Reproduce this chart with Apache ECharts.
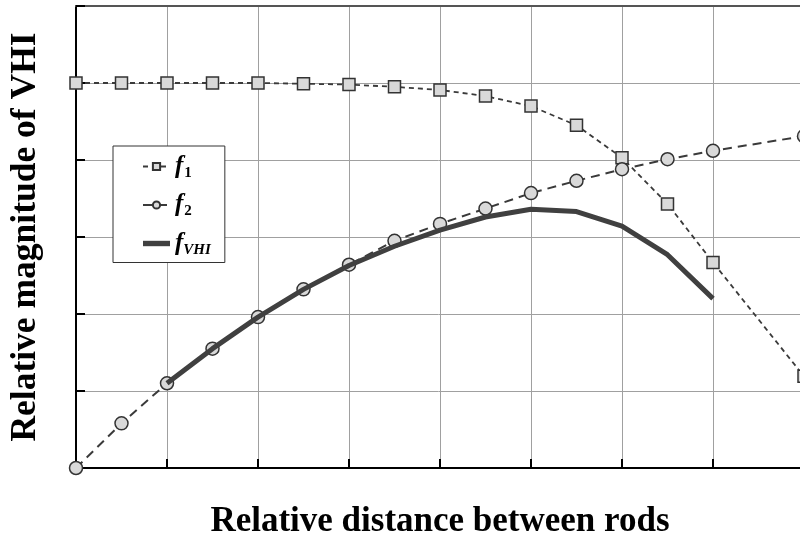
<!DOCTYPE html>
<html>
<head>
<meta charset="utf-8">
<script src="https://cdn.jsdelivr.net/npm/echarts@6/dist/echarts.min.js"></script>
<style>html,body{margin:0;padding:0;background:#fff}#c{width:800px;height:537px}</style>
</head>
<body>
<div id="c"></div>
<script>
const xValues = [0, 0.5, 1, 1.5, 2, 2.5, 3, 3.5, 4, 4.5, 5, 5.5, 6, 6.5, 7, 8];
const f1Values = [5.0, 5.0, 5.0, 5.0, 5.0, 4.99, 4.98, 4.95, 4.91, 4.83, 4.70, 4.45, 4.03, 3.43, 2.67, 1.19];
const f2Values = [0, 0.58, 1.10, 1.55, 1.96, 2.32, 2.64, 2.95, 3.17, 3.37, 3.57, 3.73, 3.88, 4.01, 4.12, 4.31];
const vhiX = [1, 1.5, 2, 2.5, 3, 3.5, 4, 4.5, 5, 5.5, 6, 6.5, 7];
const vhiValues = [1.10, 1.55, 1.96, 2.32, 2.63, 2.88, 3.09, 3.26, 3.36, 3.33, 3.14, 2.77, 2.20];
const seriesNames = ['f1', 'f2', 'fVHI'];
const xTitle = 'Relative distance between rods';
const yTitle = 'Relative magnitude of VHI';

const pair = (xs, ys) => xs.map((x, i) => [x, ys[i]]);
const serif = 'Liberation Serif';

const chart = echarts.init(document.getElementById('c'), null, {renderer: 'canvas'});
chart.setOption({
  animation: false,
  backgroundColor: '#fff',
  grid: {left: 76, top: 6, right: -4, bottom: 69, outerBoundsMode: 'none', containLabel: false},
  legend: {
    orient: 'vertical',
    left: 113, top: 146,
    padding: [8, 14, 5, 29],
    backgroundColor: '#fff',
    borderColor: '#333',
    borderWidth: 1,
    itemWidth: 27,
    itemHeight: 9,
    itemGap: 12,
    data: [
      {name: seriesNames[0]},
      {name: seriesNames[1]},
      {name: seriesNames[2], icon: 'path://M0,0H30V6H0Z'}
    ],
    formatter: function (name) {
      const sub = name.slice(1);
      return sub.length > 1 ? '{f|f}{si|' + sub + '}' : '{f|f}{s|' + sub + '}';
    },
    textStyle: {
      rich: {
        f: {fontFamily: serif, fontStyle: 'italic', fontWeight: 'bold', fontSize: 25, color: '#000'},
        s: {fontFamily: serif, fontWeight: 'bold', fontSize: 15, padding: [13, 0, 0, 1], color: '#000'},
        si: {fontFamily: serif, fontStyle: 'italic', fontWeight: 'bold', fontSize: 15, padding: [13, 0, 0, 0], color: '#000'}
      }
    }
  },
  xAxis: [{
    type: 'value', min: 0, max: 8, interval: 1,
    name: xTitle, nameLocation: 'middle', nameGap: 36,
    nameTextStyle: {fontFamily: serif, fontWeight: 'bold', fontSize: 35, color: '#000'},
    axisLine: {onZero: false, lineStyle: {color: '#000', width: 2}},
    axisTick: {inside: true, length: 9, lineStyle: {color: '#000', width: 2}},
    axisLabel: {show: false},
    splitLine: {show: true, lineStyle: {color: '#a0a0a0', width: 1}}
  }, {
    type: 'value', min: 0, max: 8, interval: 1, position: 'top',
    axisLine: {show: true, onZero: false, lineStyle: {color: '#555', width: 2}},
    axisTick: {show: false}, axisLabel: {show: false}, splitLine: {show: false}
  }],
  yAxis: {
    type: 'value', min: 0, max: 6, interval: 1,
    name: yTitle, nameLocation: 'middle', nameGap: 32,
    nameTextStyle: {fontFamily: serif, fontWeight: 'bold', fontSize: 35.5, color: '#000'},
    axisLine: {show: true, onZero: false, lineStyle: {color: '#000', width: 2}},
    axisTick: {show: true, inside: true, length: 9, lineStyle: {color: '#000', width: 2}},
    axisLabel: {show: false},
    splitLine: {show: true, lineStyle: {color: '#a0a0a0', width: 1}}
  },
  series: [
    {
      name: 'f1', type: 'line', data: pair(xValues, f1Values),
      symbol: 'rect', symbolSize: 12, z: 3,
      lineStyle: {color: '#3a3a3a', width: 1.8, type: [5, 4]},
      itemStyle: {color: '#d9d9d9', borderColor: '#333', borderWidth: 1.5}
    },
    {
      name: 'f2', type: 'line', data: pair(xValues, f2Values),
      symbol: 'circle', symbolSize: 13, z: 3,
      lineStyle: {color: '#3a3a3a', width: 2, type: [9, 6]},
      itemStyle: {color: '#d9d9d9', borderColor: '#333', borderWidth: 1.5}
    },
    {
      name: 'fVHI', type: 'line', data: pair(vhiX, vhiValues),
      symbol: 'none', z: 4,
      lineStyle: {color: '#404040', width: 5},
      itemStyle: {color: '#404040'}
    }
  ]
});
</script>
</body>
</html>
